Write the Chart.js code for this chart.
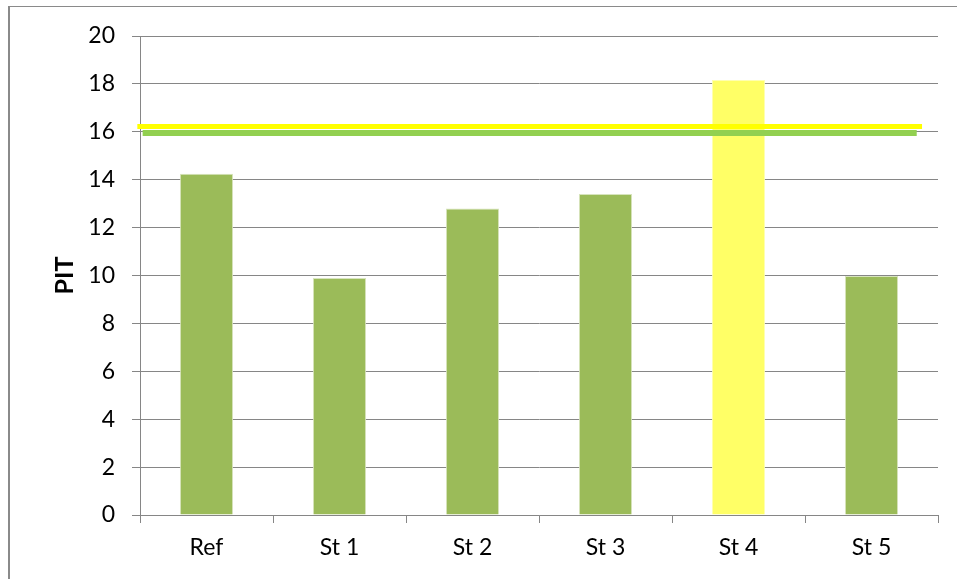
<!DOCTYPE html>
<html>
<head>
<meta charset="utf-8">
<script src="https://cdn.jsdelivr.net/npm/chart.js@4.4.0/dist/chart.umd.min.js"></script>
<style>
  html, body { margin: 0; padding: 0; background: #fff; overflow: hidden; }
  #frame { position: absolute; left: 8px; top: 6px; width: 2000px; height: 2000px;
           border-left: 2px solid #8a8a8a; border-top: 1px solid #8a8a8a; }
  #wrap { position: absolute; left: 0; top: 0; width: 957px; height: 579px; }
</style>
</head>
<body>
<div id="frame"></div>
<div id="wrap"><canvas id="c" width="957" height="579"></canvas></div>
<script>
// ---- data ----
const categories = ['Ref', 'St 1', 'St 2', 'St 3', 'St 4', 'St 5'];
const pitValues = [14.25, 9.9, 12.8, 13.4, 18.16, 9.98];
const yTicks = [0, 2, 4, 6, 8, 10, 12, 14, 16, 18, 20];
const yellowLineValue = 16.22;
const yellowLineSpan = [-0.02, 5.88];   // in category units along the x axis
const greenLineValue = 15.95;
const greenLineSpan = [0.02, 5.84];

// ---- styles ----
const barColors = ['#9BBB59', '#9BBB59', '#9BBB59', '#9BBB59', '#FFFF66', '#9BBB59'];
const barBorders = ['#D7E4BD', '#D7E4BD', '#D7E4BD', '#D7E4BD', '#FFFFB0', '#D7E4BD'];
const axisGray = '#868686';
const FONT = 'Lato, "Open Sans", sans-serif';

const spanData = (span, v) => span.map(x => ({ x: x, y: v }));

new Chart(document.getElementById('c'), {
  type: 'bar',
  data: {
    labels: categories,
    datasets: [
      {
        type: 'line', xAxisID: 'x2', yAxisID: 'y', order: 0,
        data: spanData(yellowLineSpan, yellowLineValue),
        borderColor: '#FFFF00', borderWidth: 5, pointRadius: 0, borderCapStyle: 'butt', clip: false
      },
      {
        type: 'line', xAxisID: 'x2', yAxisID: 'y', order: 0,
        data: spanData(greenLineSpan, greenLineValue),
        borderColor: '#92D050', borderWidth: 6, pointRadius: 0, borderCapStyle: 'butt', clip: false
      },
      {
        type: 'bar', xAxisID: 'x', yAxisID: 'y', order: 1,
        data: pitValues, grouped: false,
        backgroundColor: barColors, borderColor: barBorders, borderWidth: 1,
        barPercentage: 0.4, categoryPercentage: 1.0
      }
    ]
  },
  options: {
    responsive: false,
    animation: false,
    devicePixelRatio: 1,
    layout: { padding: { top: 36, right: 19, left: 0, bottom: 0 } },
    plugins: { legend: { display: false }, tooltip: { enabled: false } },
    scales: {
      x: {
        type: 'category',
        offset: true,
        grid: { offset: true, drawOnChartArea: false, drawTicks: true, tickLength: 8, color: axisGray, lineWidth: 1 },
        border: { display: true, color: axisGray, width: 1 },
        ticks: { color: '#000', font: { family: FONT, size: 23 }, padding: 11, maxRotation: 0 },
        afterFit: s => { s.height = 64; }
      },
      x2: {
        type: 'linear', display: false, min: 0, max: 6, offset: false, bounds: 'ticks',
        grid: { offset: false }
      },
      y: {
        type: 'linear', min: 0, max: 20,
        afterBuildTicks: s => { s.ticks = yTicks.map(v => ({ value: v })); },
        grid: { color: axisGray, lineWidth: 1, tickLength: 8, drawTicks: true },
        border: { display: true, color: axisGray, width: 1 },
        ticks: { color: '#000', font: { family: FONT, size: 23 }, padding: 17 },
        title: { display: true, text: 'PIT', color: '#000', font: { family: FONT, size: 25, weight: 'bold' }, padding: { top: 50, bottom: 0 } },
        afterFit: s => { s.width = 140; }
      }
    }
  }
});
</script>
</body>
</html>
